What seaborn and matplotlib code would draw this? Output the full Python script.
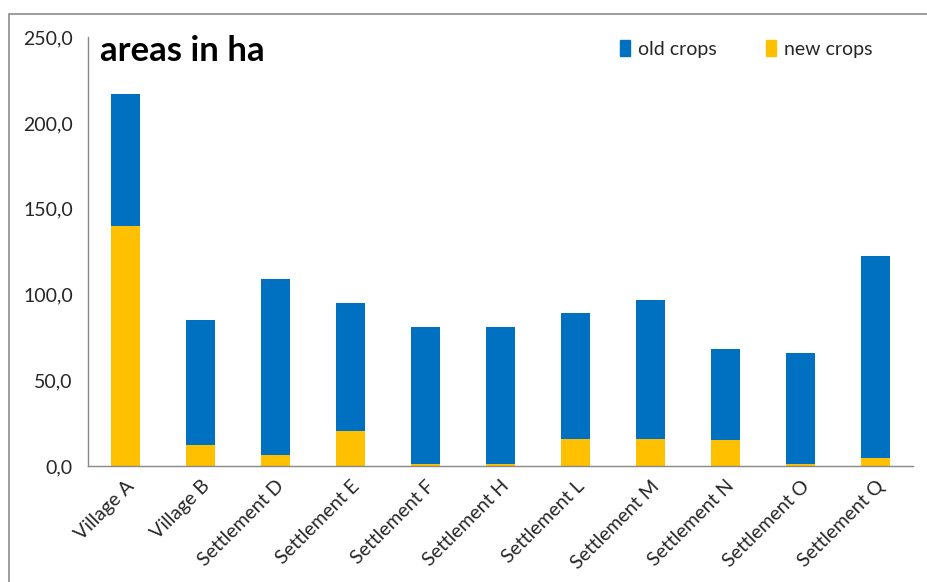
import matplotlib
matplotlib.use("Agg")
import matplotlib.pyplot as plt
import matplotlib.patches as mpatches
from matplotlib.ticker import FuncFormatter, FixedLocator
import seaborn as sns
import pandas as pd
import numpy as np

categories = ["Village A", "Village B", "Settlement D", "Settlement E", "Settlement F",
              "Settlement H", "Settlement L", "Settlement M", "Settlement N",
              "Settlement O", "Settlement Q"]
new_crops = [140.0, 12.2, 6.4, 20.4, 1.0, 1.0, 15.7, 15.7, 15.2, 1.0, 4.7]
old_crops = [76.8, 72.8, 102.6, 74.6, 80.0, 80.0, 73.3, 81.0, 53.0, 64.9, 117.7]
yticks = [0, 50, 100, 150, 200, 250]

df = pd.DataFrame({"cat": categories, "new": new_crops, "old": old_crops})
df["total"] = df["new"] + df["old"]

sns.set_style("white")
plt.rcParams["font.family"] = ["Lato", "DejaVu Sans"]

fig = plt.figure(figsize=(9.27, 5.82), dpi=100)
ax = fig.add_axes([0.095, 0.199, 0.890, 0.737])

blue = "#0070C0"
yellow = "#FFC000"
sns.barplot(data=df, x="cat", y="total", color=blue, width=0.39, ax=ax,
            saturation=1, linewidth=0, label="old crops")
sns.barplot(data=df, x="cat", y="new", color=yellow, width=0.39, ax=ax,
            saturation=1, linewidth=0, label="new crops")

ax.set_xlim(-0.5, len(categories) - 0.5)
ax.set_ylim(0, 250)
ax.set_yticks(yticks)
ax.yaxis.set_major_formatter(FuncFormatter(lambda v, p: f"{v:.1f}".replace(".", ",")))
ax.set_xlabel("")
ax.set_ylabel("")
ax.set_xticks(range(len(categories)))
ax.set_xticklabels(categories, rotation=45, ha="right", rotation_mode="anchor",
                   fontsize=14, color="#262626")
ax.tick_params(axis="x", which="major", length=0, pad=8)
ax.xaxis.set_minor_locator(FixedLocator(np.arange(-0.5, len(categories), 1.0)))
ax.tick_params(axis="x", which="minor", length=5, color="#888888", width=1)
ax.tick_params(axis="y", which="major", length=5, color="#888888", width=1,
               labelsize=14, labelcolor="#262626", pad=6)
for s in ["top", "right"]:
    ax.spines[s].set_visible(False)
for s in ["left", "bottom"]:
    ax.spines[s].set_color("#888888")
    ax.spines[s].set_linewidth(1)

ax.text(0.014, 1.005, "areas in ha", transform=ax.transAxes, fontsize=25,
        fontweight="bold", va="top", ha="left", color="#000000")

handles = [mpatches.Patch(color=blue, label="old crops"),
           mpatches.Patch(color=yellow, label="new crops")]
ax.legend(handles=handles, loc="upper right", bbox_to_anchor=(0.972, 1.035),
          ncol=2, frameon=False, fontsize=14, handlelength=0.55,
          handleheight=0.9, handletextpad=0.4, columnspacing=2.5)

# outer chart frame
fig.patches.append(mpatches.Rectangle((9 / 927, -0.1), 1.2, 1 - 14 / 582 + 0.1,
                                      transform=fig.transFigure, fill=False,
                                      edgecolor="#8c8c8c", linewidth=1.2))

fig.savefig("out.png", dpi=100)
